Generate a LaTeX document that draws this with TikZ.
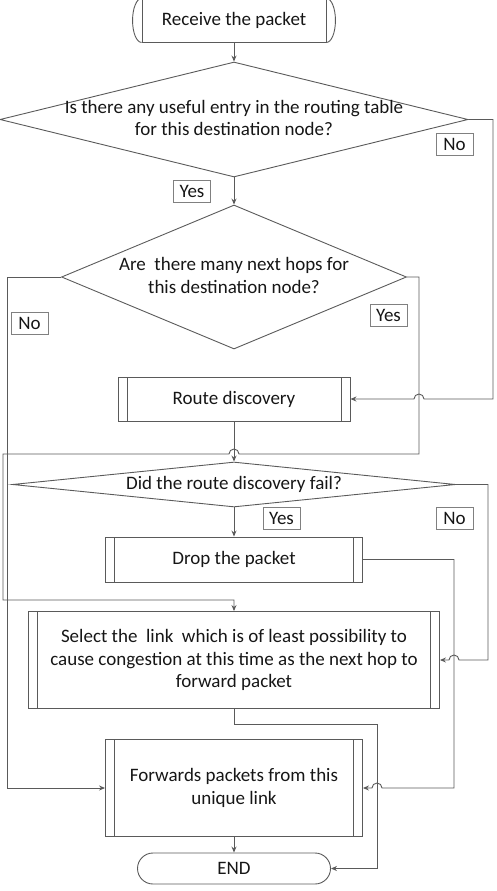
\documentclass[tikz,border=0pt]{standalone}
\usepackage{fontspec}
\setmainfont{Carlito}
\usetikzlibrary{arrows.meta,shapes.geometric,positioning}

\definecolor{linegray}{HTML}{5A5A5A}
\definecolor{taggray}{HTML}{808080}
\definecolor{inkgray}{HTML}{161616}

% text of a decision, kept out of the diamond's size
\newcommand{\qtext}[1]{\smash{\makebox[0pt]{\raisebox{-0.25em}{\begin{tabular}{@{}c@{}}#1\end{tabular}}}}}

\tikzset{
  every node/.style={font=\fontsize{19}{22.5}\selectfont, text=inkgray},
  flow/.style={draw=linegray, line width=0.9pt},
  term/.style={flow, rectangle, rounded corners=15.5pt, minimum width=193pt, minimum height=31pt},
  decision/.style={flow, diamond, inner sep=0pt},
  proc/.style={flow, rectangle, align=center, inner sep=0pt,
    path picture={\draw[flow] ([xshift=9pt]path picture bounding box.north west) -- ([xshift=9pt]path picture bounding box.south west)
      ([xshift=-9pt]path picture bounding box.north east) -- ([xshift=-9pt]path picture bounding box.south east);}},
  tag/.style={draw=taggray, line width=0.8pt, inner sep=0pt, minimum width=37pt, minimum height=22pt},
  link/.style={flow, ->},
}

\begin{document}
\begin{tikzpicture}[x=1pt,y=-1pt,>={Stealth[length=6pt,width=5pt]}]
\useasboundingbox (0,0) rectangle (497,891);

% start
\node[flow, rectangle, minimum width=184pt, minimum height=44pt] (start) at (234,20) {Receive the packet};
\draw[flow] (start.south west) arc[start angle=270, end angle=90, x radius=9pt, y radius=22pt];
\draw[flow] (start.south east) arc[start angle=-90, end angle=90, x radius=9pt, y radius=22pt];

% boxes and decisions
\node[decision, minimum width=468pt, minimum height=115pt] (q1) at (234,119.5) {\qtext{Is there any useful entry in the routing table\\for this destination node?}};
\node[decision, minimum width=345pt, minimum height=144pt] (q2) at (234,277) {\qtext{Are\ \ there many next hops for\\this destination node?}};
\node[proc, minimum width=232pt, minimum height=44pt] (route) at (234,399) {Route discovery};
\node[decision, minimum width=443pt, minimum height=45pt] (q3) at (234,484.5) {\qtext{Did the route discovery fail?}};
\node[proc, minimum width=257pt, minimum height=45pt] (drop) at (234,559.5) {Drop the packet};
\node[proc, minimum width=411pt, minimum height=97pt] (select) at (234,660) {Select the\ \ link\ \ which is of least possibility to\\cause congestion at this time as the next hop to\\forward packet};
\node[proc, minimum width=257pt, minimum height=97pt] (forw) at (234,788) {Forwards packets from this\\unique link};
\node[term] (end) at (234,868.5) {END};

% yes / no tags
\node[tag] (yes1) at (192,191) {Yes};
\node[tag] (no1) at (454.5,144) {No};
\node[tag] (no2) at (29.5,323) {No};
\node[tag] (yes2) at (388.5,315.5) {Yes};
\node[tag] (yes3) at (281.5,518.5) {Yes};
\node[tag] (no3) at (454.5,518.5) {No};

% connectors
\draw[link] (start.south) -- (q1.north);
\draw[link] (q1.south) -- (q2.north);
\draw[link] (q1.east) -| (493,399) -- (424,399) arc[start angle=0, end angle=180, radius=5pt] -- (route.east);
\draw[link] (q2.west) -- (7,277) |- (forw.west);
\draw[link] (q2.east) -| (419,454) -- (239,454) arc[start angle=0, end angle=180, radius=5pt] -- (3,454) -- (3,600) -| (select.north);
\draw[link] (route.south) -- (q3.north);
\draw[link] (q3.south) -- (drop.north);
\draw[link] (q3.east) -| (488,660) -- (459,660) arc[start angle=0, end angle=180, radius=5pt] -- (select.east);
\draw[link] (drop.east) -| (454,788) -- (382,788) arc[start angle=0, end angle=180, radius=5pt] -- (forw.east);
\draw[link] (select.south) |- (377,724) |- (end.east);
\draw[link] (forw.south) -- (end.north);
\end{tikzpicture}
\end{document}
